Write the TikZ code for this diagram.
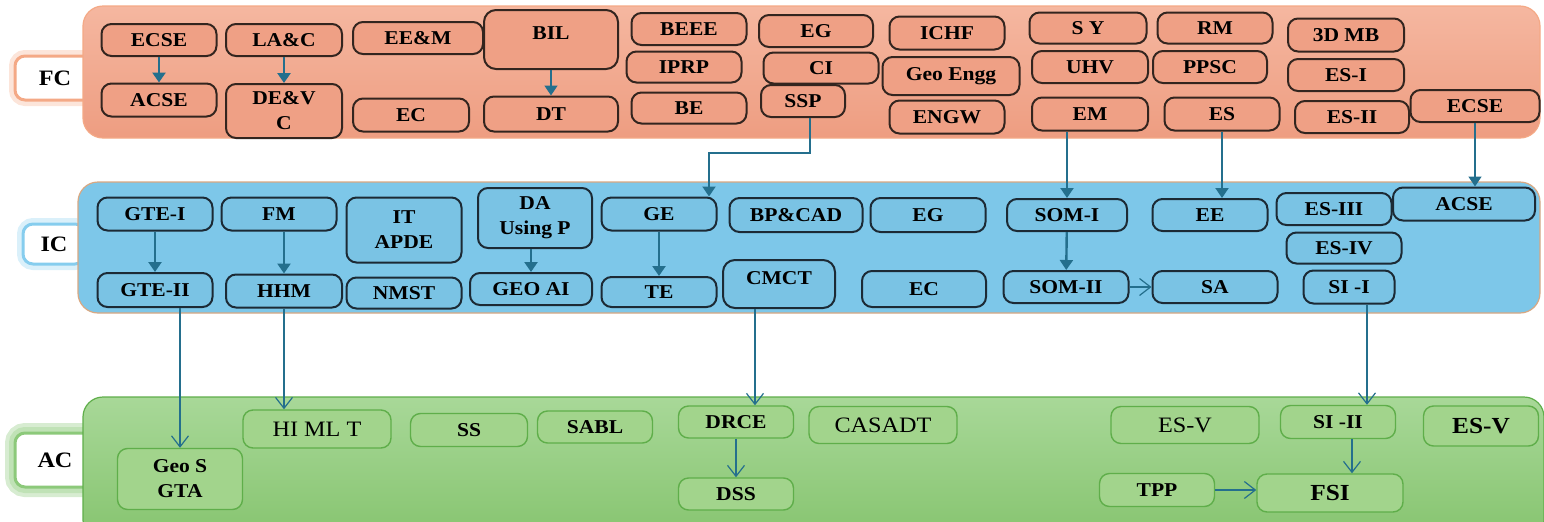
\documentclass[tikz,border=0pt]{standalone}
\usepackage{fontspec}
\setmainfont{Liberation Serif}[FakeStretch=1.1,BoldFont={Liberation Serif Bold}]
\usetikzlibrary{arrows.meta,calc}
\definecolor{FCTop}{HTML}{F5B7A0}
\definecolor{FCBottom}{HTML}{EE9D81}
\definecolor{FCBox}{HTML}{EFA085}
\definecolor{FCLine}{HTML}{33251F}
\definecolor{FCGlow}{HTML}{F4A986}
\definecolor{ICFill}{HTML}{7DC7E9}
\definecolor{ICBox}{HTML}{7AC3E4}
\definecolor{ICLine}{HTML}{1C2A35}
\definecolor{ICEdge}{HTML}{D9A882}
\definecolor{ICGlow}{HTML}{86CDEE}
\definecolor{ACTop}{HTML}{A8D898}
\definecolor{ACBottom}{HTML}{86C46F}
\definecolor{ACBox}{HTML}{A2D48C}
\definecolor{ACLine}{HTML}{5FAE4A}
\definecolor{ACGlow}{HTML}{8CC97A}
\definecolor{FlowBlue}{HTML}{246F8D}

\tikzset{
  box/.style={rounded corners=5pt,inner sep=0pt,align=center,
    font=\fontsize{9.8}{12.5}\selectfont\bfseries},
  fcbox/.style={box,fill=FCBox,draw=FCLine,line width=1pt},
  icbox/.style={box,fill=ICBox,draw=ICLine,line width=1pt},
  acbox/.style={box,fill=ACBox,draw=ACLine,line width=0.7pt},
  acreg/.style={acbox,font=\fontsize{11}{13}\selectfont},
  acbig/.style={acbox,font=\fontsize{11.5}{13}\selectfont\bfseries},
  labbox/.style={fill=white,draw=#1,line width=1.5pt,rounded corners=5pt,
    preaction={draw=#1,line width=6pt,opacity=0.3},
    font=\fontsize{11}{13}\selectfont\bfseries},
  band/.style={rounded corners=10pt,line width=0.6pt},
  flowarrow/.style={draw=FlowBlue,line width=1.2pt,
    -{Triangle[width=6.5pt,length=5pt]}},
  openarrow/.style={draw=FlowBlue,line width=0.6pt,
    -{Straight Barb[width=8.5pt,length=5.5pt]}},
}

\begin{document}
\begin{tikzpicture}[x=0.5pt,y=-0.5pt,>=Latex]
  \useasboundingbox (0,0) rectangle (1544,521);
  \clip (0,0) rectangle (1544,521);
  % side labels
  \node[labbox=FCGlow,minimum width=40pt,minimum height=22pt] (fclab) at (55,78) {FC};
  \node[labbox=ICGlow,minimum width=31pt,minimum height=20pt] (iclab) at (54,244) {IC};
  \node[labbox=ACGlow,minimum width=40pt,minimum height=27pt,
    preaction={draw=ACGlow,line width=10pt,opacity=0.35}] (aclab) at (55,460) {AC};
  % bands
  \draw[band,draw=FCGlow,top color=FCTop,bottom color=FCBottom] (83,6) rectangle (1540,138);
  \draw[band,draw=ICEdge,fill=ICFill] (78,182) rectangle (1540,313);
  \draw[band,draw=ACLine,top color=ACTop,bottom color=ACBottom] (83,397) rectangle (1544,540);

  % FC courses
  \foreach \n/\x/\y/\w/\h/\t in {
    ecsea/159/40/115/32/ECSE, lac/284/40/116/32/LA\&C, eem/418/38/130/32/EE\&M,
    acsea/159/100/115/33/ACSE, dev/284/111/116/54/DE\&V\\C, ecf/411/115/116/33/EC,
    dt/551/114/134/35/DT, beee/689/29/115/32/BEEE, iprp/684/67/115/31/IPRP,
    be/689/108/115/31/BE, egf/816/31/114/32/EG, ci/821/68/115/31/CI,
    ssp/803/101/84/32/SSP, ichf/947/33/115/33/ICHF, geoe/951/76/137/38/Geo Engg,
    engw/947/117/115/33/ENGW, sy/1088/28/117/31/S Y, rm/1215/28/115/31/RM,
    mb/1346/35/116/33/3D MB, uhv/1090/67/116/32/UHV, ppsc/1210/67/114/32/PPSC,
    esi/1346/75/116/32/ES-I, em/1090/114/116/33/EM, es/1222/114/115/33/ES,
    esii/1352/117/114/32/ES-II, ecseb/1475/106/129/32/ECSE}{%
    \node[fcbox,minimum width=0.5pt*\w,minimum height=0.5pt*\h] (\n) at (\x,\y) {\t};
  }
  \node[fcbox,rounded corners=6pt,minimum width=67pt,text height=14.75pt,
    text depth=14.75pt] (bil) at (551,39.5) {BIL};

  % IC courses
  \foreach \n/\x/\y/\w/\h/\t in {
    gtei/155/214/115/33/GTE-I, fm/279/214/115/33/FM, itap/404/230/115/65/IT\\APDE,
    gteii/155/290/115/34/GTE-II, hhm/284/291/116/33/HHM, nmst/404/293/115/31/NMST,
    da/535/218/114/60/DA\\Using P, geoai/531/289/122/32/GEO AI, ge/659/214/115/33/GE,
    te/659/292/115/30/TE, bpcad/796/215/133/34/BP\&CAD, egi/928/215/115/34/EG,
    eci/924/289/124/36/EC, somi/1067/215/120/32/SOM-I, ee/1210/215/115/32/EE,
    esiii/1334/209/115/32/ES-III, acseb/1464/204/142/33/ACSE, esiv/1344/248/115/31/ES-IV,
    somii/1066/287/125/32/SOM-II, sa/1215/287/125/32/SA, sii/1349/287/91/33/SI -I}{%
    \node[icbox,minimum width=0.5pt*\w,minimum height=0.5pt*\h] (\n) at (\x,\y) {\t};
  }
  \node[icbox,rounded corners=6pt,minimum width=56pt,text height=12pt,
    text depth=12pt] (cmct) at (779,284) {CMCT};

  % AC courses
  \foreach \n/\x/\y/\w/\h/\t in {
    ss/469/430/117/33/SS, geos/180/479/125/61/Geo S\\GTA, sabl/595/427/115/32/SABL,
    drce/736/422/115/32/DRCE, dss/736/494/115/32/DSS, siii/1338/422/115/33/SI -II,
    tpp/1157/490/115/33/TPP}{%
    \node[acbox,minimum width=0.5pt*\w,minimum height=0.5pt*\h] (\n) at (\x,\y) {\t};
  }
  \node[acreg,minimum width=74pt,minimum height=19pt] (himlt) at (317,429) {HI ML T};
  \node[acreg,minimum width=74pt,minimum height=18.5pt] (casadt) at (883,425) {CASADT};
  \node[acreg,minimum width=74pt,minimum height=18.5pt] (esva) at (1185,425) {ES-V};
  \node[acbig,minimum width=57.5pt,minimum height=20pt] (esvb) at (1481,426) {ES-V};
  \node[acbig,minimum width=73pt,minimum height=19pt] (fsi) at (1330,493) {FSI};

  % FC connectors
  \draw[flowarrow,line width=1.4pt] (ecsea) -- (acsea);
  \draw[flowarrow,line width=1.4pt] (lac) -- (dev);
  \draw[flowarrow,line width=0.8pt] (bil) -- (dt);
  \draw[flowarrow,line width=1pt] ([xshift=3.5pt]ssp.south) -- ++(0,35) -| ([xshift=25pt]ge.north);
  \draw[flowarrow,line width=1pt] (somi.north |- em.south) -- (somi.north);
  \draw[flowarrow,line width=1pt] (es.south) -- (es.south |- ee.north);
  \draw[flowarrow,line width=0.8pt] (ecseb.south) -- (ecseb.south |- acseb.north);
  % IC connectors
  \draw[flowarrow] (gtei) -- (gteii);
  \draw[flowarrow] (hhm.north |- fm.south) -- (hhm.north);
  \draw[flowarrow] (geoai.north |- da.south) -- (geoai.north);
  \draw[flowarrow] (ge) -- (te);
  \draw[flowarrow] (somi) -- (somii);
  \draw[openarrow] (somii) -- (sa);
  % IC to AC
  \coordinate (cmdown) at ([xshift=-12pt]cmct.south);
  \coordinate (sidown) at ([xshift=9pt]sii.south);
  \draw[openarrow] (geos.north |- gteii.south) -- (geos.north);
  \draw[openarrow] (hhm.south) -- (hhm.south |- himlt.north);
  \draw[openarrow] (cmdown) -- (cmdown |- drce.north);
  \draw[openarrow] (sidown) -- (sidown |- siii.north);
  % AC connectors
  \coordinate (fsidown) at ([xshift=7pt]siii.south);
  \draw[openarrow] (drce) -- (dss);
  \draw[openarrow] (fsidown) -- (fsidown |- fsi.north);
  \draw[openarrow] (tpp.east) -- (fsi.west |- tpp.east);
\end{tikzpicture}
\end{document}
